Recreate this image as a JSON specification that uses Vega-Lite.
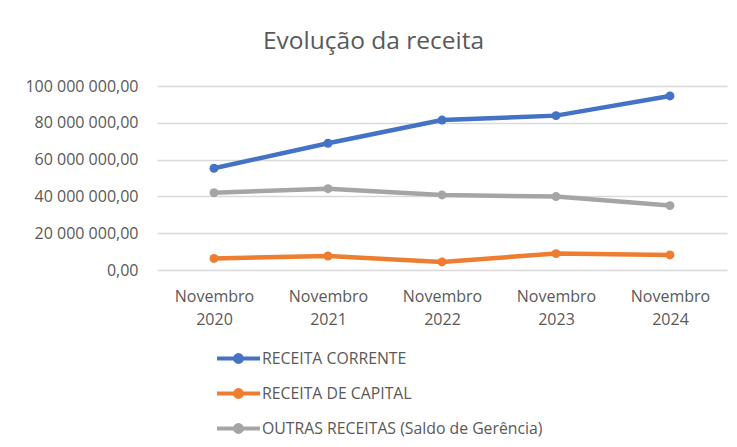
{
  "$schema": "https://vega.github.io/schema/vega-lite/v6.json",
  "autosize": "none",
  "width": 570,
  "height": 184,
  "padding": {"left": 157, "top": 86, "right": 10, "bottom": 177},
  "background": "white",
  "config": {
    "font": "Open Sans",
    "locale": {"number": {"decimal": ",", "thousands": " ", "grouping": [3], "currency": ["", ""]}},
    "view": {"stroke": null},
    "axis": {"labelColor": "#595959", "labelFontSize": 16, "domain": false, "ticks": false, "title": null}
  },
  "title": {
    "text": "Evolução da receita",
    "fontSize": 24.5,
    "fontWeight": "normal",
    "color": "#595959",
    "anchor": "start",
    "frame": "group",
    "dx": 106,
    "offset": 24
  },
  "data": {
    "values": [
      {"periodo": "Novembro 2020", "serie": "RECEITA CORRENTE", "valor": 55300000},
      {"periodo": "Novembro 2021", "serie": "RECEITA CORRENTE", "valor": 68900000},
      {"periodo": "Novembro 2022", "serie": "RECEITA CORRENTE", "valor": 81500000},
      {"periodo": "Novembro 2023", "serie": "RECEITA CORRENTE", "valor": 83900000},
      {"periodo": "Novembro 2024", "serie": "RECEITA CORRENTE", "valor": 94600000},
      {"periodo": "Novembro 2020", "serie": "RECEITA DE CAPITAL", "valor": 6300000},
      {"periodo": "Novembro 2021", "serie": "RECEITA DE CAPITAL", "valor": 7600000},
      {"periodo": "Novembro 2022", "serie": "RECEITA DE CAPITAL", "valor": 4400000},
      {"periodo": "Novembro 2023", "serie": "RECEITA DE CAPITAL", "valor": 8900000},
      {"periodo": "Novembro 2024", "serie": "RECEITA DE CAPITAL", "valor": 8200000},
      {"periodo": "Novembro 2020", "serie": "OUTRAS RECEITAS (Saldo de Gerência)", "valor": 42000000},
      {"periodo": "Novembro 2021", "serie": "OUTRAS RECEITAS (Saldo de Gerência)", "valor": 44200000},
      {"periodo": "Novembro 2022", "serie": "OUTRAS RECEITAS (Saldo de Gerência)", "valor": 40800000},
      {"periodo": "Novembro 2023", "serie": "OUTRAS RECEITAS (Saldo de Gerência)", "valor": 39900000},
      {"periodo": "Novembro 2024", "serie": "OUTRAS RECEITAS (Saldo de Gerência)", "valor": 35000000}
    ]
  },
  "mark": {"type": "line", "strokeWidth": 4.5, "point": {"filled": true, "size": 80, "opacity": 1}},
  "encoding": {
    "x": {
      "field": "periodo",
      "type": "nominal",
      "sort": null,
      "scale": {"type": "point", "padding": 0.5},
      "axis": {"labelAngle": 0, "labelExpr": "split(datum.label, ' ')", "labelPadding": 18, "labelLineHeight": 23, "grid": false}
    },
    "y": {
      "field": "valor",
      "type": "quantitative",
      "scale": {"domain": [0, 100000000], "nice": false},
      "axis": {"values": [0, 20000000, 40000000, 60000000, 80000000, 100000000], "format": ",.2f", "labelPadding": 19, "gridColor": "#D9D9D9", "gridWidth": 1.3}
    },
    "color": {
      "field": "serie",
      "type": "nominal",
      "sort": ["RECEITA CORRENTE", "RECEITA DE CAPITAL", "OUTRAS RECEITAS (Saldo de Gerência)"],
      "scale": {
        "domain": ["RECEITA CORRENTE", "RECEITA DE CAPITAL", "OUTRAS RECEITAS (Saldo de Gerência)"],
        "range": ["#4472C4", "#ED7D31", "#A5A5A5"]
      },
      "legend": {
        "title": null,
        "orient": "none",
        "legendX": 58,
        "legendY": 249,
        "direction": "vertical",
        "labelFontSize": 15.8,
        "labelColor": "#595959",
        "labelLimit": 400,
        "labelOffset": 0,
        "symbolType": "M-1,0H1M0.07,0A0.07,0.07 0 1,1 -0.07,0A0.07,0.07 0 1,1 0.07,0M0.16,0A0.16,0.16 0 1,1 -0.16,0A0.16,0.16 0 1,1 0.16,0",
        "symbolSize": 1849,
        "symbolStrokeWidth": 4,
        "rowPadding": -1
      }
    }
  }
}
